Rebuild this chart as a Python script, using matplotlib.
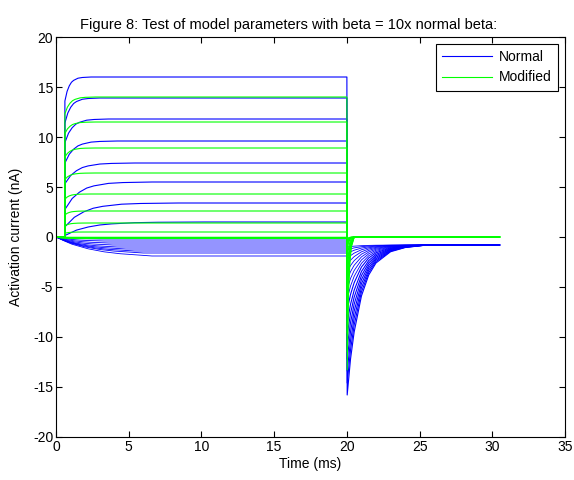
import numpy as np
import matplotlib
matplotlib.use('Agg')
import matplotlib.pyplot as plt

plt.rcParams['font.family'] = ['Liberation Sans', 'DejaVu Sans']
plt.rcParams['axes.unicode_minus'] = False

# step timing (ms)
t_on = 0.6
t_off = 20.0
t_end = 30.5

# Normal model (blue), depolarising steps: steady level, instant jump fraction, rise time scale
blue_levels = [16.0, 13.9, 11.8, 9.6, 7.4, 5.5, 3.4, 1.5]
blue_jump = [0.85, 0.82, 0.8, 0.77, 0.72, 0.5, 0.3, 0.1]
blue_scale = [0.3, 0.4, 0.5, 0.6, 0.8, 1.0, 1.3, 1.6]
blue_tail_pos = [-15.8, -14.6, -13.4, -12.2, -11.0, -9.8, -8.6, -7.3]

# Normal model, hyperpolarising steps (level and time to settle)
blue_neg_levels = [-0.2, -0.4, -0.6, -0.8, -1.0, -1.2, -1.4, -1.6, -1.9]
blue_neg_scale = [0.5, 0.55, 0.6, 0.65, 0.7, 0.8, 0.9, 1.0, 1.1]
blue_tail_neg = [-6.2, -5.2, -4.3, -3.5, -2.8, -2.2, -1.7, -1.3, -1.0]
blue_tail_end = -0.8

# Modified model (green)
green_levels = [14.0, 11.5, 8.9, 6.4, 4.3, 2.6, 1.4, 0.5]
green_jump = [0.88, 0.9, 0.9, 0.9, 0.88, 0.85, 0.8, 0.75]
green_scale = [0.35, 0.35, 0.35, 0.35, 0.3, 0.3, 0.3, 0.3]
green_tail_pos = [-13.3, -11.5, -9.6, -7.7, -5.9, -4.2, -2.7, -1.4]
green_neg_levels = [-0.03, -0.06, -0.09, -0.12, -0.15]
green_neg_scale = [0.2, 0.2, 0.2, 0.2, 0.2]
green_tail_neg = [-1.0, -0.7, -0.5, -0.3, -0.2]
green_tail_end = 0.0

# shapes (fraction of the way to the end value)
rise_x = [0.5, 1, 1.5, 2, 3, 4, 6]
rise_f = [0.4, 0.63, 0.78, 0.86, 0.95, 0.98, 1.0]
neg_t = [0, 0.5, 1, 2, 3, 4, 6]
neg_f = [0, 0.2, 0.38, 0.62, 0.78, 0.88, 1.0]
blue_tail_x = [0.02, 0.25, 0.5, 1, 1.5, 2, 3, 4, 5.5]
blue_tail_f = [1, 0.76, 0.58, 0.34, 0.2, 0.12, 0.045, 0.017, 0]
green_tail_x = [0.02, 0.1, 0.2, 0.3, 0.5]
green_tail_f = [1, 0.45, 0.2, 0.08, 0]


def tail(peak, end, tx, tf):
    t = [t_off + x for x in tx] + [t_end]
    y = [end + (peak - end) * f for f in tf] + [end]
    return t, y


def pos_trace(level, jump, scale, peak, end, tx, tf):
    t = [0, t_on, t_on + 0.01] + [t_on + 0.01 + scale * x for x in rise_x] + [t_off]
    y = [0, 0, level * jump] + [level * (jump + (1 - jump) * f) for f in rise_f] + [level]
    tt, ty = tail(peak, end, tx, tf)
    return t + tt, y + ty


def neg_trace(level, scale, peak, end, tx, tf):
    t = [scale * x for x in neg_t] + [t_off]
    y = [level * f for f in neg_f] + [level]
    tt, ty = tail(peak, end, tx, tf)
    return t + tt, y + ty


fig = plt.figure(figsize=(5.74, 4.80), dpi=100)
ax = fig.add_axes([0.0976, 0.0896, 0.8868, 0.8333])

lw = 0.8
for i in range(len(blue_levels)):
    t, y = pos_trace(blue_levels[i], blue_jump[i], blue_scale[i], blue_tail_pos[i],
                     blue_tail_end, blue_tail_x, blue_tail_f)
    h_blue, = ax.plot(t, y, color='#0000ff', lw=lw)
for i in range(len(blue_neg_levels)):
    t, y = neg_trace(blue_neg_levels[i], blue_neg_scale[i], blue_tail_neg[i],
                     blue_tail_end, blue_tail_x, blue_tail_f)
    ax.plot(t, y, color='#0000ff', lw=0.6)

for i in range(len(green_levels)):
    t, y = pos_trace(green_levels[i], green_jump[i], green_scale[i], green_tail_pos[i],
                     green_tail_end, green_tail_x, green_tail_f)
    h_green, = ax.plot(t, y, color='#00ff00', lw=lw)
for i in range(len(green_neg_levels)):
    t, y = neg_trace(green_neg_levels[i], green_neg_scale[i], green_tail_neg[i],
                     green_tail_end, green_tail_x, green_tail_f)
    ax.plot(t, y, color='#00ff00', lw=lw)

ax.set_xlim(0, 35)
ax.set_ylim(-20, 20)
ax.set_xticks(np.arange(0, 36, 5))
ax.set_yticks(np.arange(-20, 21, 5))
ax.tick_params(direction='in', top=True, right=True, length=4, width=0.8,
               labelsize=10, pad=2)
for s in ax.spines.values():
    s.set_linewidth(0.8)

ax.set_xlabel('Time (ms)', fontsize=10, labelpad=2)
ax.set_ylabel('Activation current (nA)', fontsize=10, labelpad=7)
ax.set_title('Figure 8: Test of model parameters with beta = 10x normal beta:',
             fontsize=10.5, pad=6, x=0.456)

leg = ax.legend([h_blue, h_green], ['Normal', 'Modified'], loc='upper right',
                fontsize=10, fancybox=False, framealpha=1, edgecolor='black',
                borderaxespad=0.5, handlelength=3.6, handletextpad=0.5,
                borderpad=0.45, labelspacing=0.45)
leg.get_frame().set_linewidth(0.8)

fig.savefig('out.png', dpi=100, facecolor='white')
